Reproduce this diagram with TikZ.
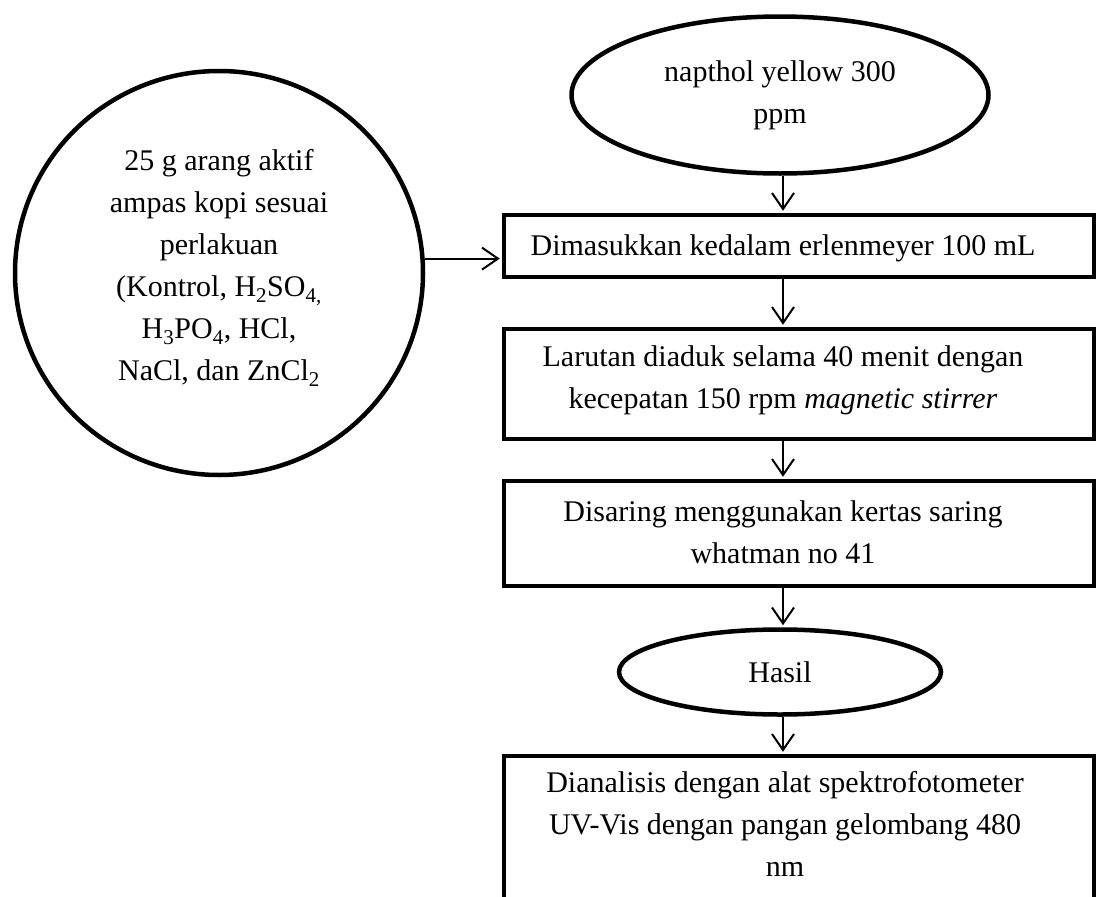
\documentclass[tikz,border=0pt]{standalone}
\usepackage{fontspec}
\setmainfont{Liberation Serif}
\usetikzlibrary{shapes.geometric,arrows.meta}
\begin{document}
\begin{tikzpicture}[x=1pt,y=-1pt,
  every node/.style={font=\fontsize{30}{42}\selectfont, align=center, inner sep=0pt},
  stepbox/.style={draw, line width=4.5pt, rectangle, minimum width=590pt},
  oval/.style={draw, line width=4.5pt, ellipse},
  flow/.style={line width=2pt, shorten >=2pt,
    -{Straight Barb[length=16pt,width=22pt,line width=2pt]}}]
  % page frame
  \clip (0,0) rectangle (1098,897);
  % starting materials
  \node[oval, minimum width=417pt, minimum height=157pt] (yellow) at (780,95)
    {napthol yellow 300\\ppm};
  \node[oval, minimum width=408pt, minimum height=404pt] (carbon) at (219,273) {};
  \node (carbontxt) at (219,268)
    {25 g arang aktif\\ampas kopi sesuai\\perlakuan\\
     (Kontrol, H\textsubscript{2}SO\textsubscript{4,}\\
     H\textsubscript{3}PO\textsubscript{4}, HCl,\\
     NaCl, dan ZnCl\textsubscript{2}};
  % process steps
  \node[stepbox, minimum height=62pt] (b1) at (799,246) {};
  \node (t1) at (783,248) {Dimasukkan kedalam erlenmeyer 100 mL};
  \node[stepbox, minimum height=110pt] (b2) at (799,384) {};
  \node (t2) at (783,380) {Larutan diaduk selama 40 menit dengan\\
    kecepatan 150 rpm \textit{magnetic stirrer}};
  \node[stepbox, minimum height=105pt] (b3) at (799,533.5) {};
  \node (t3) at (783,532) {Disaring menggunakan kertas saring\\whatman no 41};
  \node[oval, minimum width=322pt, minimum height=85pt] (hasil) at (780,672) {Hasil};
  \node[stepbox, minimum height=184pt] (b4) at (799,848) {};
  \node (t4) at (785,824) {Dianalisis dengan alat spektrofotometer\\
    UV-Vis dengan pangan gelombang 480\\nm};
  % connectors
  \draw[flow] (yellow.south -| t1) -- (b1.north -| t1);
  \draw[flow] (carbon.4.5) -- (carbon.4.5 -| b1.west);
  \draw[flow] (b1.south -| t1) -- (b2.north -| t1);
  \draw[flow] (b2.south -| t1) -- (b3.north -| t1);
  \draw[flow] (b3.south -| t1) -- (hasil.north -| t1);
  \draw[flow] (hasil.south -| t1) -- (b4.north -| t1);
\end{tikzpicture}
\end{document}
